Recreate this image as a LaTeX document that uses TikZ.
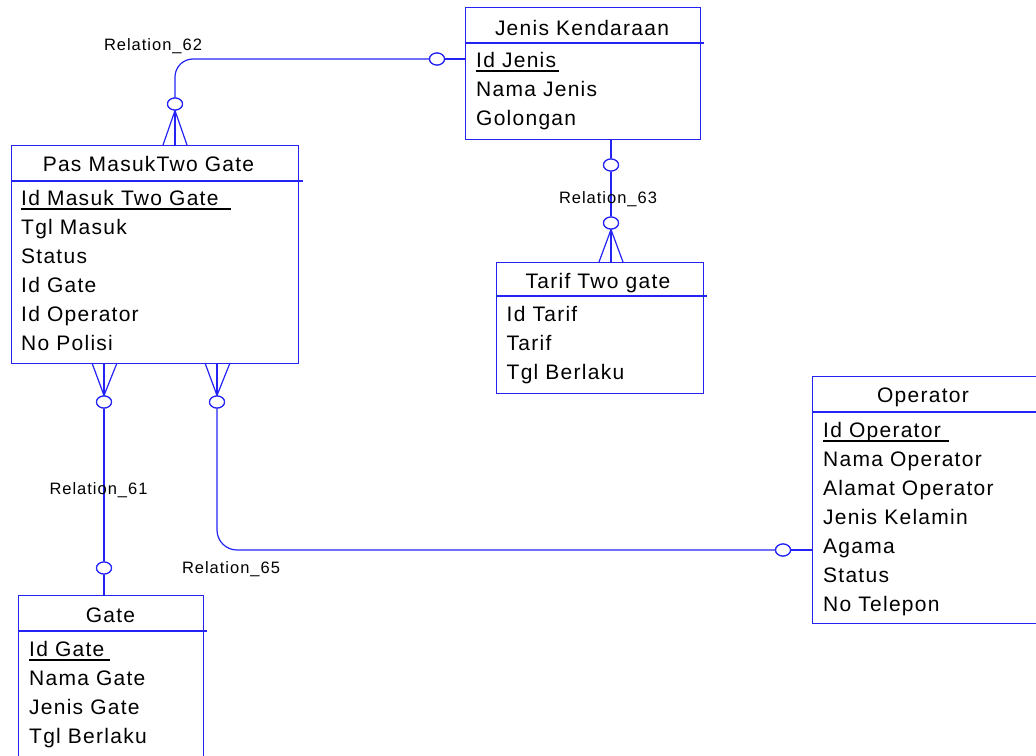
\documentclass[tikz,border=0pt]{standalone}
\usepackage{fontspec}
\setmainfont{Liberation Sans}[LetterSpace=6]
\usetikzlibrary{shapes.geometric}
\definecolor{er}{RGB}{35,35,245}
\tikzset{
 ent/.style={draw=er, line width=1.2pt, anchor=north west, inner sep=0pt},
 hdr/.style={draw=er, line width=1.2pt},
 ttl/.style={font=\fontsize{21}{21}\selectfont, anchor=base, inner sep=0pt},
 attr/.style={font=\fontsize{21}{21}\selectfont, anchor=base west, inner sep=0pt},
 rel/.style={font=\fontsize{16.5}{16.5}\selectfont, anchor=base, inner sep=0pt},
 conn/.style={draw=er, line width=1.2pt},
 opt/.style={ellipse, draw=er, fill=white, line width=1.2pt, minimum width=15pt, minimum height=12pt, inner sep=0pt},
 pk/.style={draw=black, line width=1.6pt}
}
\begin{document}
\begin{tikzpicture}[x=1pt,y=-1pt]
\useasboundingbox (0,0) rectangle (1036,755);
\clip (0,0) rectangle (1036,755);

% ---------- entities ----------
% Jenis Kendaraan
\node[ent, minimum width=235pt, minimum height=132pt] (jk) at (465,7) {};
\draw[hdr] ([yshift=-36pt]jk.north west) -- ([yshift=-36pt,xshift=3pt]jk.north east);
\node[ttl] (jkt) at (582,35) {Jenis Kendaraan};
\node[attr] (jk1) at (476,67) {Id Jenis};
\node[attr] (jk2) at (476,96) {Nama Jenis};
\node[attr] (jk3) at (476,125) {Golongan};
\draw[pk] ([yshift=-4pt]jk1.base west) -- ([yshift=-4pt,xshift=3pt]jk1.base east);

% Pas Masuk Two Gate
\node[ent, minimum width=287pt, minimum height=218pt] (pm) at (11,145) {};
\draw[hdr] ([yshift=-36pt]pm.north west) -- ([yshift=-36pt,xshift=4pt]pm.north east);
\node[ttl] (pmt) at (148.5,171) {Pas MasukTwo Gate};
\node[attr] (pm1) at (21,205) {Id Masuk Two Gate};
\node[attr] (pm2) at (21,234) {Tgl Masuk};
\node[attr] (pm3) at (21,263) {Status};
\node[attr] (pm4) at (21,292) {Id Gate};
\node[attr] (pm5) at (21,321) {Id Operator};
\node[attr] (pm6) at (21,350) {No Polisi};
\draw[pk] ([yshift=-4pt]pm1.base west) -- ([yshift=-4pt,xshift=12pt]pm1.base east);

% Tarif Two gate
\node[ent, minimum width=207pt, minimum height=131pt] (tt) at (496,262) {};
\draw[hdr] ([yshift=-34pt]tt.north west) -- ([yshift=-34pt,xshift=3pt]tt.north east);
\node[ttl] (ttt) at (598,288) {Tarif Two gate};
\node[attr] (tt1) at (506.5,321) {Id Tarif};
\node[attr] (tt2) at (506.5,350) {Tarif};
\node[attr] (tt3) at (506.5,379) {Tgl Berlaku};

% Operator
\node[ent, minimum width=232pt, minimum height=247pt] (op) at (812,376) {};
\draw[hdr] ([yshift=-36pt]op.north west) -- ([yshift=-36pt]op.north east);
\node[ttl] (opt) at (923,402) {Operator};
\node[attr] (op1) at (823,437) {Id Operator};
\node[attr] (op2) at (823,466) {Nama Operator};
\node[attr] (op3) at (823,495) {Alamat Operator};
\node[attr] (op4) at (823,524) {Jenis Kelamin};
\node[attr] (op5) at (823,553) {Agama};
\node[attr] (op6) at (823,582) {Status};
\node[attr] (op7) at (823,611) {No Telepon};
\draw[pk] ([yshift=-4pt]op1.base west) -- ([yshift=-4pt,xshift=8pt]op1.base east);

% Gate
\node[ent, minimum width=185pt, minimum height=175pt] (gt) at (18,595) {};
\draw[hdr] ([yshift=-36pt]gt.north west) -- ([yshift=-36pt,xshift=3pt]gt.north east);
\node[ttl] (gtt) at (110.5,622) {Gate};
\node[attr] (gt1) at (29,656) {Id Gate};
\node[attr] (gt2) at (29,685) {Nama Gate};
\node[attr] (gt3) at (29,714) {Jenis Gate};
\node[attr] (gt4) at (29,743) {Tgl Berlaku};
\draw[pk] ([yshift=-4pt]gt1.base west) -- ([yshift=-4pt,xshift=5pt]gt1.base east);

% ---------- relationship circles ----------
\node[opt] (c62a) at (437,59) {};
\node[opt] (c62b) at (175,104) {};
\node[opt] (c63a) at (611,165) {};
\node[opt] (c63b) at (611,223) {};
\node[opt] (c61a) at (104,402) {};
\node[opt] (c61b) at (104,568) {};
\node[opt] (c65a) at (217,402) {};
\node[opt] (c65b) at (783,550) {};

% ---------- connectors ----------
% Relation_62
\draw[conn] (c62a.east) -- (c62a.east -| jk.west);
\draw[conn, rounded corners=18pt] (c62a.west) -| (c62b.north);
\draw[conn] (163,145) -- (c62b.south) -- (187,145);
\draw[conn] (c62b.south) -- (c62b.south |- pm.north);

% Relation_63
\draw[conn] (c63a.north) -- (c63a.north |- jk.south);
\draw[conn] (c63a.south) -- (c63b.north);
\draw[conn] (599,262) -- (c63b.south) -- (623,262);
\draw[conn] (c63b.south) -- (c63b.south |- tt.north);

% Relation_61
\draw[conn] (92,363) -- (c61a.north) -- (117,363);
\draw[conn] (c61a.north) -- (c61a.north |- pm.south);
\draw[conn] (c61a.south) -- (c61b.north);
\draw[conn] (c61b.south) -- (c61b.south |- gt.north);

% Relation_65
\draw[conn] (205,363) -- (c65a.north) -- (230,363);
\draw[conn] (c65a.north) -- (c65a.north |- pm.south);
\draw[conn, rounded corners=20pt] (c65a.south) |- (c65b.west);
\draw[conn] (c65b.east) -- (c65b.east -| op.west);

% redraw circles on top
\node[opt] at (c62a) {};
\node[opt] at (c62b) {};
\node[opt] at (c63a) {};
\node[opt] at (c63b) {};
\node[opt] at (c61a) {};
\node[opt] at (c61b) {};
\node[opt] at (c65a) {};
\node[opt] at (c65b) {};

% ---------- relation labels ----------
\node[rel] (l62) at (153,50) {Relation\_62};
\node[rel] (l63) at (608,203) {Relation\_63};
\node[rel] (l61) at (98.5,494) {Relation\_61};
\node[rel] (l65) at (231,573) {Relation\_65};
\end{tikzpicture}
\end{document}
